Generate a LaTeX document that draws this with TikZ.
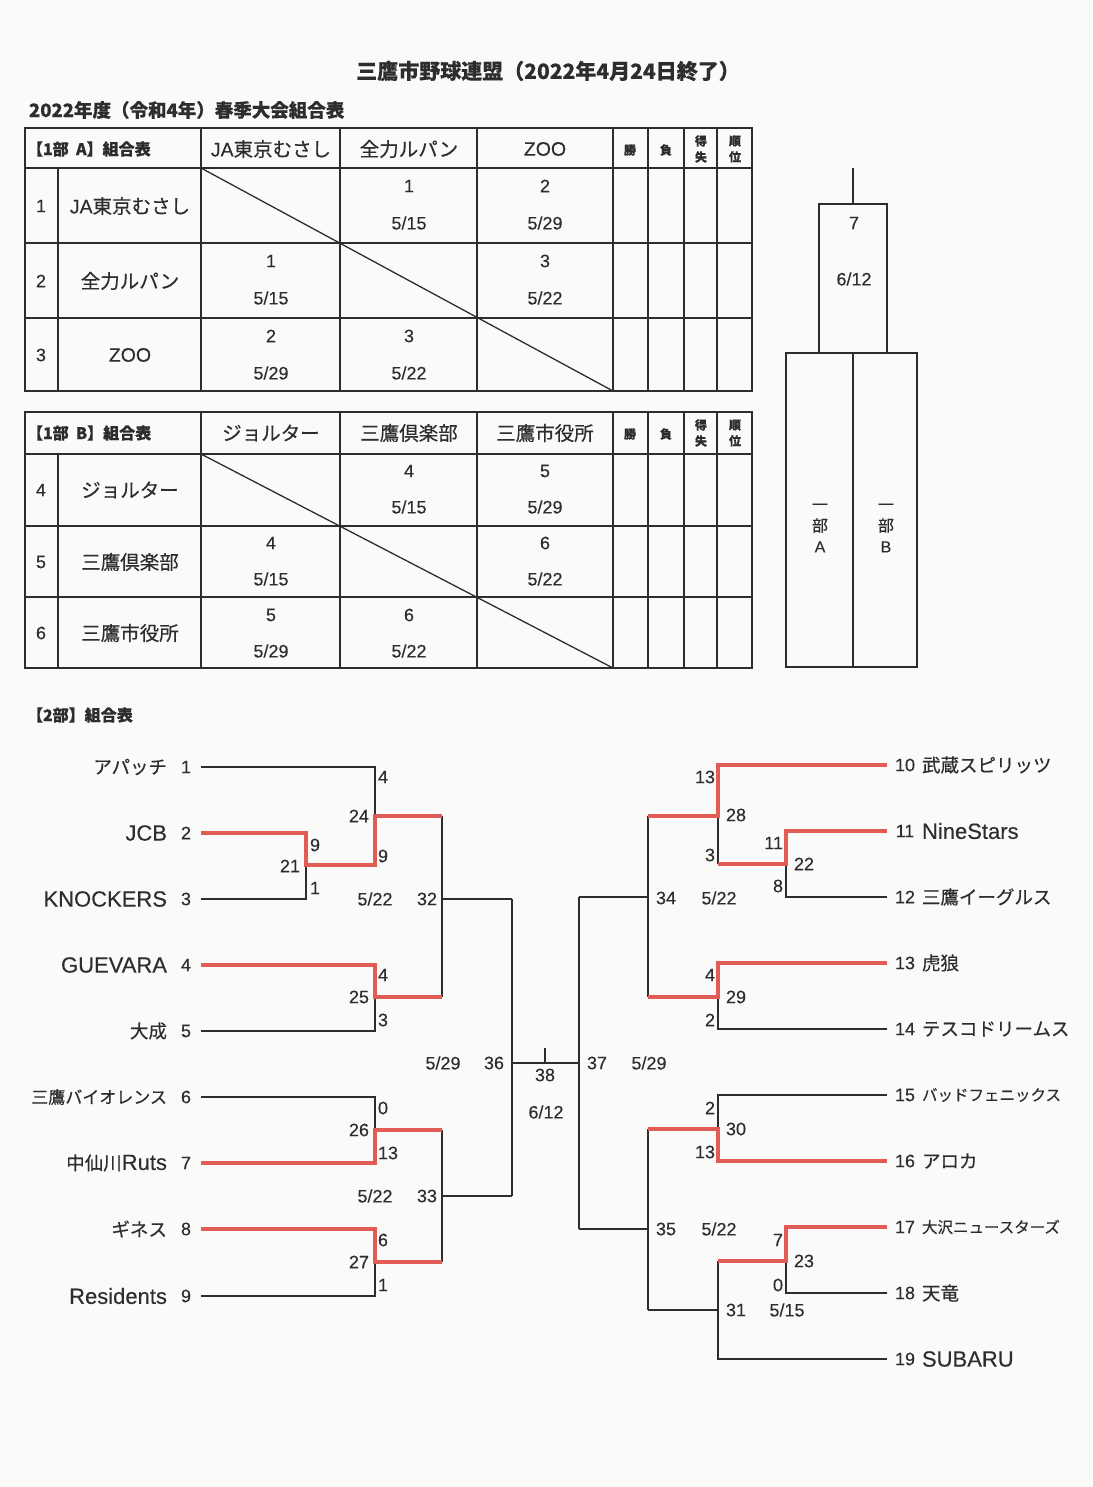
\documentclass[tikz,border=0pt]{standalone}
\usepackage{fontspec}
\setmainfont{Noto Sans CJK JP}[FakeBold=0.35]
\newfontfamily\lat{Liberation Sans}[FakeBold=0.2]
\newcommand\latb[1]{{\lat\fontsize{22}{24}\selectfont #1}}
\definecolor{ink}{RGB}{45,45,45}
\definecolor{winred}{RGB}{226,92,86}
\definecolor{paper}{RGB}{250,250,248}
\begin{document}
\begin{tikzpicture}[x=1pt,y=-1pt,
  ln/.style={draw=ink,line width=1.3pt},
  tb/.style={draw=ink,line width=1.5pt},
  win/.style={draw=winred,line width=4.8pt,line join=miter},
  every node/.style={inner sep=0pt,outer sep=0pt,text=ink},
  jn/.style={font=\fontsize{19.5}{21}\selectfont},
  tn/.style={font=\fontsize{18.5}{21}\selectfont},
  js/.style={font=\fontsize{16}{21}\selectfont},
  hd/.style={font=\bfseries\fontsize{16}{18}\selectfont},
  sm/.style={font=\bfseries\fontsize{12}{16}\selectfont,align=center},
  nm/.style={font=\lat\fontsize{18}{20}\selectfont},
  bn/.style={font=\lat\fontsize{18}{20}\selectfont},
  ttl/.style={font=\bfseries\fontsize{21}{23}\selectfont}]
\fill[paper] (0,0) rectangle (1092,1487);
\useasboundingbox (0,0) rectangle (1092,1487);

% titles
\node[ttl] (title) at (548,71) {三鷹市野球連盟（2022年4月24日終了）};
\node[hd,font=\bfseries\fontsize{18.5}{20}\selectfont,anchor=west] (sub) at (29,110) {2022年度（令和4年）春季大会組合表};

% ---------- Table A ----------
\draw[tb] (25,128) rectangle (752,391);
\foreach \yy in {168,243,318} \draw[tb] (25,\yy) -- (752,\yy);
\draw[tb] (58,168) -- (58,391);
\foreach \xx in {201,340,477,613,648,684,717} \draw[tb] (\xx,128) -- (\xx,391);
\draw[ln] (201,168) -- (613,391);
\node[hd,anchor=west] (ha0) at (27,149) {【1部\ \ A】組合表};
\node[jn] (ha1) at (271,149) {{\lat JA}東京むさし};
\node[jn] (ha2) at (409,149) {全力ルパン};
\node[jn] (ha3) at (545,149) {\lat ZOO};
\node[sm] (ha4) at (630,150) {勝};
\node[sm] (ha5) at (666,150) {負};
\node[sm] (ha6) at (701,149) {得\\失};
\node[sm] (ha7) at (735,149) {順\\位};
\node[nm] (ra1n) at (41,206) {1};
\node[jn] (ra1t) at (130,206) {{\lat JA}東京むさし};
\node[nm] (ra1a) at (409,186) {1};
\node[nm] (ra1b) at (409,223) {5/15};
\node[nm] (ra1c) at (545,186) {2};
\node[nm] (ra1d) at (545,223) {5/29};
\node[nm] (ra2n) at (41,281) {2};
\node[jn] (ra2t) at (130,281) {全力ルパン};
\node[nm] (ra2a) at (271,261) {1};
\node[nm] (ra2b) at (271,298) {5/15};
\node[nm] (ra2c) at (545,261) {3};
\node[nm] (ra2d) at (545,298) {5/22};
\node[nm] (ra3n) at (41,355) {3};
\node[jn] (ra3t) at (130,355) {\lat ZOO};
\node[nm] (ra3a) at (271,336) {2};
\node[nm] (ra3b) at (271,373) {5/29};
\node[nm] (ra3c) at (409,336) {3};
\node[nm] (ra3d) at (409,373) {5/22};

% ---------- Table B ----------
\draw[tb] (25,412) rectangle (752,668);
\foreach \yy in {454,526,597} \draw[tb] (25,\yy) -- (752,\yy);
\draw[tb] (58,454) -- (58,668);
\foreach \xx in {201,340,477,613,648,684,717} \draw[tb] (\xx,412) -- (\xx,668);
\draw[ln] (201,454) -- (613,668);
\node[hd,anchor=west] (hb0) at (27,433) {【1部\ \ B】組合表};
\node[jn] (hb1) at (271,433) {ジョルター};
\node[jn] (hb2) at (409,433) {三鷹倶楽部};
\node[jn] (hb3) at (545,433) {三鷹市役所};
\node[sm] (hb4) at (630,434) {勝};
\node[sm] (hb5) at (666,434) {負};
\node[sm] (hb6) at (701,433) {得\\失};
\node[sm] (hb7) at (735,433) {順\\位};
\node[nm] (rb1n) at (41,490) {4};
\node[jn] (rb1t) at (130,490) {ジョルター};
\node[nm] (rb1a) at (409,471) {4};
\node[nm] (rb1b) at (409,507) {5/15};
\node[nm] (rb1c) at (545,471) {5};
\node[nm] (rb1d) at (545,507) {5/29};
\node[nm] (rb2n) at (41,562) {5};
\node[jn] (rb2t) at (130,562) {三鷹倶楽部};
\node[nm] (rb2a) at (271,543) {4};
\node[nm] (rb2b) at (271,579) {5/15};
\node[nm] (rb2c) at (545,543) {6};
\node[nm] (rb2d) at (545,579) {5/22};
\node[nm] (rb3n) at (41,633) {6};
\node[jn] (rb3t) at (130,633) {三鷹市役所};
\node[nm] (rb3a) at (271,615) {5};
\node[nm] (rb3b) at (271,651) {5/29};
\node[nm] (rb3c) at (409,615) {6};
\node[nm] (rb3d) at (409,651) {5/22};

% ---------- 1部 final box ----------
\coordinate (ftop1) at (853,168);
\draw[tb] (819,204) rectangle (887,353);
\draw[ln] (ftop1) -- (853,204);
\draw[tb] (786,353) rectangle (917,667);
\draw[tb] (853,353) -- (853,667);
\node[nm] (fb1) at (854,223) {7};
\node[nm] (fb2) at (854,279) {6/12};
\node[js,align=center] (fbA) at (820,528) {一\\部\\{\lat A}};
\node[js,align=center] (fbB) at (886,528) {一\\部\\{\lat B}};

% ---------- 2部 ----------
\node[hd,anchor=west] (h2) at (27,715) {【2部】組合表};

% left teams
\foreach \i/\yy/\nm in {1/767/アパッチ,2/833/\latb{JCB},3/899/\latb{KNOCKERS},4/965/\latb{GUEVARA},5/1031/大成,7/1163/中仙川\latb{Ruts},8/1229/ギネス,9/1296/\latb{Residents}}{
  \node[tn,anchor=east] (LT\i) at (167,\yy) {\nm};
  \node[bn] (LN\i) at (186,\yy) {\i};
  \coordinate (L\i) at (201,\yy);
}
\node[tn,font=\fontsize{17}{19}\selectfont,anchor=east] (LT6) at (167,1097) {三鷹バイオレンス};
\node[bn] (LN6) at (186,1097) {6};
\coordinate (L6) at (201,1097);
% right teams
\foreach \i/\yy/\nm in {10/765/武蔵スピリッツ,11/831/\latb{NineStars},12/897/三鷹イーグルス,13/963/虎狼,14/1029/テスコドリームス,16/1161/アロカ,18/1293/天竜,19/1359/\latb{SUBARU}}{
  \node[tn,anchor=west] (RT\i) at (922,\yy) {\nm};
  \node[bn] (RN\i) at (905,\yy) {\i};
  \coordinate (R\i) at (887,\yy);
}
\foreach \i/\yy/\nm in {15/1095/バッドフェニックス,17/1227/大沢ニュースターズ}{
  \node[tn,font=\fontsize{15.5}{18}\selectfont,anchor=west] (RT\i) at (922,\yy) {\nm};
  \node[bn] (RN\i) at (905,\yy) {\i};
  \coordinate (R\i) at (887,\yy);
}

% junctions
\coordinate (m21) at (306,865);
\coordinate (m24) at (375,816);
\coordinate (m25) at (375,997);
\coordinate (m26) at (375,1130);
\coordinate (m27) at (375,1262);
\coordinate (m32) at (442,899);
\coordinate (m33) at (442,1196);
\coordinate (m36) at (512,1063);
\coordinate (fin) at (545,1063);
\coordinate (fintop) at (545,1048);
\coordinate (m37) at (579,1063);
\coordinate (m34) at (648,897);
\coordinate (m35) at (648,1229);
\coordinate (m28) at (718,816);
\coordinate (m22) at (786,864);
\coordinate (m29) at (718,997);
\coordinate (m30) at (718,1129);
\coordinate (m23) at (786,1261);
\coordinate (m31) at (718,1310);

% black lines
\draw[ln] (L1) -| (m24);
\draw[ln] (L3) -| (m21);
\draw[ln] (L5) -| (m25);
\draw[ln] (L6) -| (m26);
\draw[ln] (L9) -| (m27);
\draw[ln] (m24 -| m32) -- (m25 -| m32);
\draw[ln] (m32) -- (m32 -| m36);
\draw[ln] (m26 -| m33) -- (m27 -| m33);
\draw[ln] (m33) -- (m33 -| m36);
\draw[ln] (m32 -| m36) -- (m33 -| m36);
\draw[ln] (m36) -- (m37);
\draw[ln] (fin) -- (fintop);
\draw[ln] (m34 -| m37) -- (m35 -| m37);
\draw[ln] (m34) -- (m34 -| m37);
\draw[ln] (m35) -- (m35 -| m37);
\draw[ln] (m28 -| m34) -- (m29 -| m34);
\draw[ln] (m30 -| m35) -- (m31 -| m35);
\draw[ln] (m31) -- (m31 -| m35);
\draw[ln] (R12) -| (m22);
\draw[ln] (m28) -- (m22 -| m28);
\draw[ln] (R14) -| (m29);
\draw[ln] (R15) -| (m30);
\draw[ln] (R18) -| (m23);
\draw[ln] (R19) -| (m31);
\draw[ln] (m23 -| m31) -- (m31);

% winners
\draw[win] (L2) -| (m21) -| (m24) -- (m24 -| m32);
\draw[win] (L4) -| (m25) -- (m25 -| m32);
\draw[win] (L7) -| (m26) -- (m26 -| m33);
\draw[win] (L8) -| (m27) -- (m27 -| m33);
\draw[win] (R10) -| (m28) -- (m28 -| m34);
\draw[win] (R11) -| (m22) -- (m22 -| m28);
\draw[win] (R13) -| (m29) -- (m29 -| m34);
\draw[win] (R16) -| (m30) -- (m30 -| m35);
\draw[win] (R17) -| (m23) -- (m23 -| m31);

% left labels
\node[bn,anchor=west] (s21a) at (310,845) {9};
\node[bn,anchor=east] (g21) at (300,866) {21};
\node[bn,anchor=west] (s21b) at (310,888) {1};
\node[bn,anchor=west] (s24a) at (378,777) {4};
\node[bn,anchor=east] (g24) at (369,816) {24};
\node[bn,anchor=west] (s24b) at (378,856) {9};
\node[bn] (d32) at (375,899) {5/22};
\node[bn] (g32) at (427,899) {32};
\node[bn,anchor=west] (s25a) at (378,975) {4};
\node[bn,anchor=east] (g25) at (369,997) {25};
\node[bn,anchor=west] (s25b) at (378,1020) {3};
\node[bn,anchor=west] (s26a) at (378,1108) {0};
\node[bn,anchor=east] (g26) at (369,1130) {26};
\node[bn,anchor=west] (s26b) at (378,1153) {13};
\node[bn] (d33) at (375,1196) {5/22};
\node[bn] (g33) at (427,1196) {33};
\node[bn,anchor=west] (s27a) at (378,1240) {6};
\node[bn,anchor=east] (g27) at (369,1262) {27};
\node[bn,anchor=west] (s27b) at (378,1285) {1};
\node[bn] (d36) at (443,1063) {5/29};
\node[bn] (g36) at (494,1063) {36};
\node[bn] (g38) at (545,1075) {38};
\node[bn] (d38) at (546,1112) {6/12};
\node[bn] (g37) at (597,1063) {37};
\node[bn] (d37) at (649,1063) {5/29};

% right labels
\node[bn,anchor=east] (s28a) at (715,777) {13};
\node[bn,anchor=west] (g28) at (726,815) {28};
\node[bn,anchor=east] (s28b) at (715,855) {3};
\node[bn,anchor=east] (s22a) at (783,843) {11};
\node[bn,anchor=west] (g22) at (794,864) {22};
\node[bn,anchor=east] (s22b) at (783,886) {8};
\node[bn] (g34) at (666,898) {34};
\node[bn] (d34) at (719,898) {5/22};
\node[bn,anchor=east] (s29a) at (715,975) {4};
\node[bn,anchor=west] (g29) at (726,997) {29};
\node[bn,anchor=east] (s29b) at (715,1020) {2};
\node[bn,anchor=east] (s30a) at (715,1108) {2};
\node[bn,anchor=west] (g30) at (726,1129) {30};
\node[bn,anchor=east] (s30b) at (715,1152) {13};
\node[bn] (g35) at (666,1229) {35};
\node[bn] (d35) at (719,1229) {5/22};
\node[bn,anchor=east] (s23a) at (783,1240) {7};
\node[bn,anchor=west] (g23) at (794,1261) {23};
\node[bn,anchor=east] (s23b) at (783,1285) {0};
\node[bn] (g31) at (736,1310) {31};
\node[bn] (d31) at (787,1310) {5/15};
\end{tikzpicture}
\end{document}
